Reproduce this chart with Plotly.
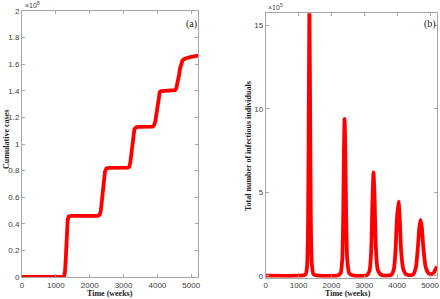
import plotly.graph_objects as go

# ---- data ----
cum_t = [0, 1000, 1200, 1250, 1270, 1290, 1310, 1330, 1350, 1380, 1450,
         2250, 2300, 2330, 2360, 2390, 2420, 2450, 2490, 2560,
         3130, 3170, 3200, 3230, 3260, 3290, 3320, 3360, 3420,
         3860, 3900, 3940, 3970, 4000, 4030, 4070, 4110, 4180,
         4520, 4560, 4600, 4640, 4670, 4700, 4740, 4780, 4850, 5000, 5200]
cum_v = [0, 0, 0.0, 0.01, 0.04, 0.12, 0.24, 0.36, 0.43, 0.455, 0.46,
         0.46, 0.47, 0.50, 0.57, 0.66, 0.74, 0.79, 0.815, 0.82,
         0.822, 0.83, 0.86, 0.93, 1.01, 1.08, 1.11, 1.123, 1.128,
         1.13, 1.14, 1.17, 1.23, 1.30, 1.36, 1.39, 1.398, 1.40,
         1.405, 1.42, 1.46, 1.52, 1.57, 1.605, 1.627, 1.636, 1.645, 1.655, 1.665]

inf_t = [0, 1000, 1150, 1220, 1260, 1290, 1310, 1330, 1350, 1370, 1400, 1450, 1550,
         2200, 2280, 2330, 2360, 2380, 2400, 2420, 2445, 2480, 2540, 2650,
         3080, 3160, 3210, 3245, 3280, 3315, 3350, 3410, 3520,
         3820, 3900, 3950, 3990, 4040, 4080, 4120, 4185, 4290,
         4480, 4570, 4630, 4675, 4713, 4750, 4800, 4870, 4970, 5050, 5120, 5170, 5220]
inf_v = [0, 0, 0.02, 0.1, 0.6, 3.5, 10.0, 15.9, 10.5, 4.0, 0.8, 0.1, 0.02,
         0.02, 0.15, 1.0, 3.8, 7.5, 9.4, 7.8, 4.0, 1.0, 0.15, 0.02,
         0.03, 0.3, 1.5, 4.2, 6.2, 4.5, 1.8, 0.35, 0.04,
         0.05, 0.4, 1.5, 3.3, 4.45, 3.4, 1.5, 0.4, 0.06,
         0.06, 0.5, 1.7, 2.9, 3.35, 2.9, 1.6, 0.5, 0.12, 0.1, 0.2, 0.4, 0.55]

x_ticks = [0, 1000, 2000, 3000, 4000, 5000]
left_y_ticks = [0, 0.2, 0.4, 0.6, 0.8, 1, 1.2, 1.4, 1.6, 1.8, 2]
right_y_ticks = [0, 5, 10, 15]

RED = "#ff0000"
AX = "#a6a6a6"
TXT = "#404040"
TICKFONT = dict(family="Liberation Sans, Arial", size=8, color=TXT)
TITLEFONT = dict(family="Liberation Serif, Times New Roman", size=8, color="#202020")

fig = go.Figure()
fig.add_trace(go.Scatter(x=cum_t, y=cum_v, mode="lines", line=dict(color=RED, width=3.8),
                         xaxis="x", yaxis="y", showlegend=False))
fig.add_trace(go.Scatter(x=inf_t, y=inf_v, mode="lines", line=dict(color=RED, width=3.8, shape="spline", smoothing=0.6),
                         xaxis="x2", yaxis="y2", showlegend=False, cliponaxis=True))

common = dict(showline=True, linecolor=AX, linewidth=1, mirror="allticks", ticks="inside",
              ticklen=3, tickcolor=AX, showgrid=False, zeroline=False, tickfont=TICKFONT,
              automargin=False)

fig.update_layout(
    width=440, height=299, margin=dict(l=0, r=0, t=0, b=0),
    paper_bgcolor="white", plot_bgcolor="white",
    xaxis=dict(domain=[0.05, 0.45], range=[0, 5200], tickvals=x_ticks, anchor="y", **common),
    yaxis=dict(domain=[0.0736, 0.9632], range=[0, 2], tickvals=left_y_ticks,
               ticktext=[("%g" % v) for v in left_y_ticks], anchor="x", **common),
    xaxis2=dict(domain=[0.6039, 0.9939], range=[0, 5222], tickvals=x_ticks, anchor="y2", **common),
    yaxis2=dict(domain=[0.0712, 0.9555], range=[-0.12, 15.74], tickvals=right_y_ticks, anchor="x2", **common),
)

ann = [
    dict(text="Time (weeks)", x=110, y=293),
    dict(text="Time (weeks)", x=348, y=293),
    dict(text="Cumulative cases", x=6, y=140, textangle=-90),
    dict(text="Total number of infectious individuals", x=248, y=146, textangle=-90),
]
annotations = []
for a in ann:
    annotations.append(dict(text="<b>%s</b>" % a["text"], x=a["x"] / 440, y=1 - a["y"] / 299,
                            xref="paper", yref="paper", showarrow=False,
                            textangle=a.get("textangle", 0), font=TITLEFONT,
                            xanchor="center", yanchor="middle"))
annotations += [
    dict(text="(a)", x=191 / 440, y=1 - 24 / 299, xref="paper", yref="paper", showarrow=False,
         font=dict(family="Liberation Serif", size=10, color="#202020"), xanchor="center", yanchor="middle"),
    dict(text="(b)", x=430 / 440, y=1 - 24 / 299, xref="paper", yref="paper", showarrow=False,
         font=dict(family="Liberation Serif", size=10, color="#202020"), xanchor="center", yanchor="middle"),
    dict(text="×10<sup>8</sup>", x=23 / 440, y=1 - 5 / 299, xref="paper", yref="paper", showarrow=False,
         font=dict(family="Liberation Sans", size=7, color=TXT), xanchor="left", yanchor="middle"),
    dict(text="×10<sup>5</sup>", x=266 / 440, y=1 - 7 / 299, xref="paper", yref="paper", showarrow=False,
         font=dict(family="Liberation Sans", size=7, color=TXT), xanchor="left", yanchor="middle"),
]
fig.update_layout(annotations=annotations)

fig.write_html("out.html", config={"displayModeBar": False},
               post_script="document.body.style.margin='0';document.body.style.overflow='hidden';")
